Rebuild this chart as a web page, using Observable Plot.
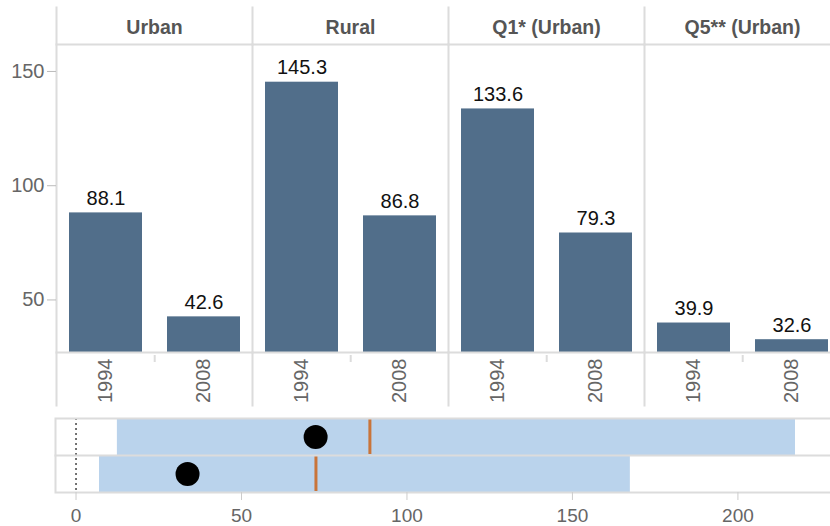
<!DOCTYPE html>
<html>
<head>
<meta charset="utf-8">
<script src="https://cdn.jsdelivr.net/npm/d3@7"></script>
<script src="https://cdn.jsdelivr.net/npm/@observablehq/plot@0.6"></script>
<style>
  html, body { margin: 0; padding: 0; background: #fff; overflow: hidden; }
  #wrap { width: 830px; height: 526px; overflow: hidden; }
  #wrap svg { display: block; max-width: none !important; }
</style>
</head>
<body>
<div id="wrap"></div>
<script>
// ---- data: top faceted bars ----
const categories = ["Urban", "Rural", "Q1* (Urban)", "Q5** (Urban)"];
const years = ["1994", "2008"];
const values1994 = [88.1, 145.3, 133.6, 39.9];
const values2008 = [42.6, 86.8, 79.3, 32.6];
const yTicks = [50, 100, 150];

// ---- data: bottom bullet rows ----
const rows = ["1994", "2008"];
const rangeLow = [12.5, 7.1];
const rangeHigh = [217.4, 167.5];
const markerValues = [88.8, 72.5];
const dotValues = [72.4, 33.7];
const xTicks = [0, 50, 100, 150, 200];

const font = "Arial, 'Liberation Sans', sans-serif";
const lineColor = "#dcdcdc";

const barData = [];
categories.forEach((c, i) => {
  barData.push({cat: c, year: years[0], value: values1994[i]});
  barData.push({cat: c, year: years[1], value: values2008[i]});
});

const topChart = Plot.plot({
  width: 840,
  height: 410,
  marginTop: 44,
  marginBottom: 58,
  marginLeft: 55,
  marginRight: 0,
  style: {fontFamily: font, background: "#fff", maxWidth: "none"},
  fx: {domain: categories, padding: 0},
  x: {domain: years, paddingInner: 0.26, paddingOuter: 0.12},
  y: {domain: [27, 161.8]},
  marks: [
    Plot.barY(barData, {fx: "cat", x: "year", y: "value", fill: "#516e8a", clip: true}),
    Plot.text(barData, {fx: "cat", x: "year", y: "value", text: d => d3.format(".1f")(d.value),
      dy: -14.5, fontSize: 20, fill: "#111", lineAnchor: "middle"}),
    Plot.frame({anchor: "left", stroke: lineColor, strokeWidth: 2, insetTop: -37, insetBottom: -53}),
    Plot.frame({anchor: "top", stroke: lineColor, strokeWidth: 2}),
    Plot.frame({anchor: "bottom", stroke: lineColor, strokeWidth: 2}),
    Plot.ruleX([years[1]], {x: d => d, dx: -49.3, insetTop: 311, insetBottom: -10, stroke: lineColor, strokeWidth: 2}),
    Plot.axisFx({anchor: "top", tickSize: 0, tickPadding: 11, fontSize: 19.5, fontWeight: "bold", fill: "#555", label: null}),
    Plot.axisY({ticks: yTicks, tickSize: 9, tickPadding: 3, fontSize: 20, fill: "#666", stroke: "#bbb", label: null}),
    Plot.axisX({tickRotate: -90, tickSize: 0, tickPadding: 6, fontSize: 20, fill: "#666", label: null})
  ]
});

const bulletData = rows.map((r, i) => ({row: r, lo: rangeLow[i], hi: rangeHigh[i], mark: markerValues[i], dot: dotValues[i]}));

const bottomChart = Plot.plot({
  width: 840,
  height: 116,
  marginTop: 8,
  marginBottom: 34,
  marginLeft: 55,
  marginRight: 0,
  style: {fontFamily: font, background: "#fff", maxWidth: "none"},
  x: {domain: [-6.2, 231]},
  y: {domain: rows, padding: 0, axis: null},
  marks: [
    Plot.barX(bulletData, {y: "row", x1: "lo", x2: "hi", fill: "#bad3ec"}),
    Plot.ruleX([0], {stroke: "#444", strokeWidth: 1.5, strokeDasharray: "2,3"}),
    Plot.tickX(bulletData, {x: "mark", y: "row", stroke: "#c9743a", strokeWidth: 3, insetTop: 1, insetBottom: 1}),
    Plot.dot(bulletData, {x: "dot", y: "row", r: 12, fill: "#000"}),
    Plot.frame({stroke: lineColor, strokeWidth: 2}),
    Plot.frame({anchor: "bottom", insetBottom: 37, stroke: lineColor, strokeWidth: 2}),
    Plot.axisX({ticks: xTicks, tickSize: 8, tickPadding: 8, fontSize: 19, fill: "#666", stroke: "#ccc", label: null})
  ]
});

const wrap = document.getElementById("wrap");
wrap.appendChild(topChart);
wrap.appendChild(bottomChart);
</script>
</body>
</html>
